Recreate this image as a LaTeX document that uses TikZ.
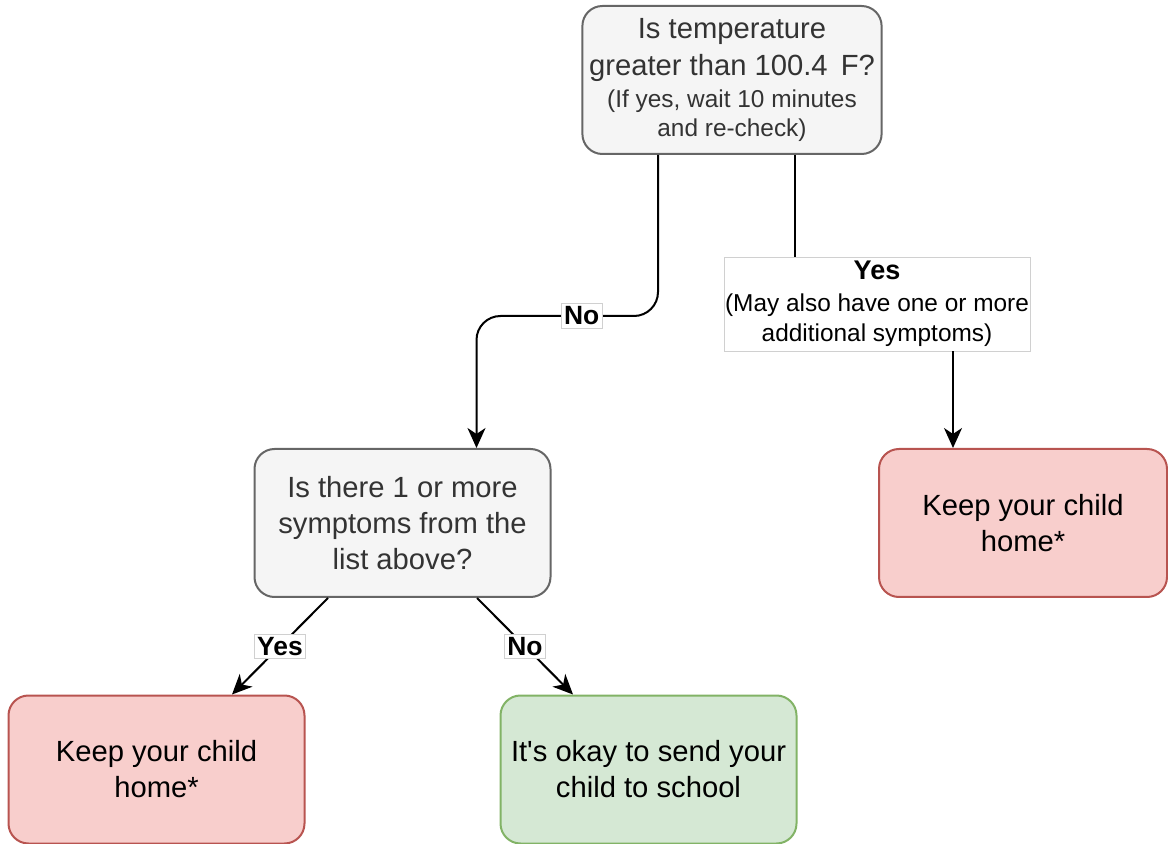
\documentclass[tikz,border=0pt]{standalone}
\usepackage{fontspec}
\setmainfont{Liberation Sans}
\usetikzlibrary{arrows.meta}
\definecolor{greyfill}{HTML}{F5F5F5}
\definecolor{greyline}{HTML}{666666}
\definecolor{greytext}{HTML}{333333}
\definecolor{redfill}{HTML}{F8CECC}
\definecolor{redline}{HTML}{B85450}
\definecolor{greenfill}{HTML}{D5E8D4}
\definecolor{greenline}{HTML}{82B366}
\definecolor{lblline}{HTML}{D0D0D0}
\newcommand{\smalltxt}{\fontsize{12.2}{14.6}\selectfont}
\begin{document}
\begin{tikzpicture}[x=0.5pt, y=-0.5pt,
    box/.style={rounded corners=10pt, line width=1pt, minimum width=148pt, minimum height=74pt,
      align=center, font=\fontsize{14.6}{18}\selectfont},
    question/.style={box, fill=greyfill, draw=greyline, text=greytext},
    stop/.style={box, fill=redfill, draw=redline},
    go/.style={box, fill=greenfill, draw=greenline},
    lbl/.style={sharp corners, fill=white, draw=lblline, line width=0.4pt, inner sep=1.5pt,
      align=center, font=\bfseries\fontsize{13.2}{16}\selectfont},
    link/.style={line width=1pt, -{Stealth[length=10pt,width=9pt,inset=3pt]}}]
  \useasboundingbox (0,0) rectangle (1168,844);
  % Questions
  \node[question, font=\fontsize{14.6}{14.6}\selectfont] (temp) at (732,80)
    {Is temperature\\[4pt]greater than 100.4\hspace{0.45em}F?\\[1.5pt]
    \smalltxt (If yes, wait 10 minutes\\\smalltxt and re-check)};
  \node[question] (symp) at (402.5,523) {Is there 1 or more\\symptoms from the\\list above?};
  % Outcomes
  \node[stop, minimum width=144pt] (homeA) at (1023,523) {Keep your child\\home*};
  \node[stop] (homeB) at (156.5,769.5) {Keep your child\\home*};
  \node[go] (school) at (648.5,769.5) {It\textquotesingle s okay to send your\\child to school};
  % Label of the yes branch
  \node[lbl, font=\smalltxt, minimum width=153pt, minimum height=47pt, inner sep=0pt] (yeslbl)
    at (877,304) {\textbf{\fontsize{13.5}{16}\selectfont Yes}\\[1.5pt]\smalltxt (May also have one or more\\[0.5pt]\smalltxt additional symptoms)};
  \coordinate (yesout) at ([xshift=31.5pt]temp.south);
  \coordinate (yesin) at ([xshift=-35pt]homeA.north);
  % No branch
  \draw[link, rounded corners=12pt] ([xshift=-37pt]temp.south) -- ++(0,161)
    -| node[lbl, pos=0.21] (nolbl) {No} ([xshift=37pt]symp.north);
  % Yes branch
  \draw[line width=1pt] (yesout) -- (yesout |- yeslbl.north);
  \draw[link] (yesin |- yeslbl.south) -- (yesin);
  % Symptoms
  \draw[link] ([xshift=-37.25pt]symp.south) -- node[lbl] (yeslblB) {Yes} ([xshift=37.75pt]homeB.north);
  \draw[link] ([xshift=37.25pt]symp.south) -- node[lbl] (nolblB) {No} ([xshift=-37.75pt]school.north);
\end{tikzpicture}
\end{document}
